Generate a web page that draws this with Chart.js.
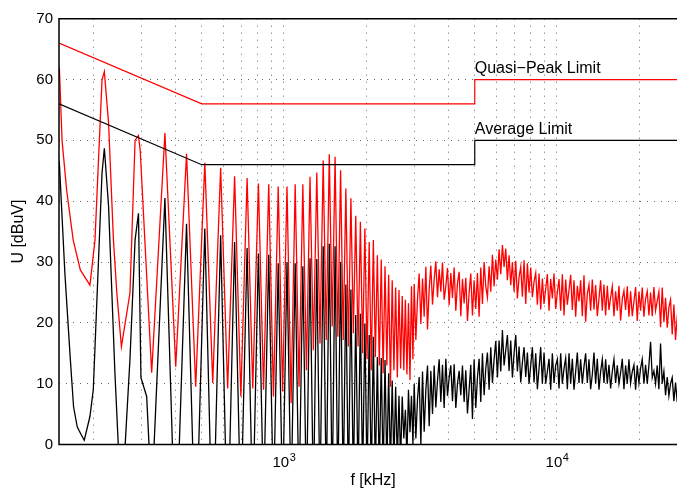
<!DOCTYPE html>
<html>
<head>
<meta charset="utf-8">
<title>Conducted emission</title>
<script src="https://cdn.jsdelivr.net/npm/chart.js@4.4.1/dist/chart.umd.min.js"></script>
<style>
  html, body { margin: 0; padding: 0; overflow: hidden; background: #fff; }
  #wrap { width: 690px; height: 488px; }
</style>
</head>
<body>
<div id="wrap"><canvas id="grafico" width="690" height="488"></canvas></div>
<script>
//DATA//

// harmonics of the switching frequency (kHz), n = 2 ... 40
const harmonicKHz = [146.6, 219.9, 293.2, 366.5, 439.8, 513.1, 586.4, 659.7, 733, 806.3,
  879.6, 952.9, 1026.2, 1099.5, 1172.8, 1246.1, 1319.4, 1392.7, 1466, 1539.3,
  1612.6, 1685.9, 1759.2, 1832.5, 1905.8, 1979.1, 2052.4, 2125.7, 2199, 2272.3,
  2345.6, 2418.9, 2492.2, 2565.5, 2638.8, 2712.1, 2785.4, 2858.7, 2932];

// quasi-peak: level on each harmonic and the minimum right after it (dBuV)
const qpPeak = [63, 61.3, 50.8, 51.2, 47.8, 46.3, 45.5, 44.1, 43.8, 42.9,
  42.8, 42.4, 42.4, 42.8, 42.8, 44.0, 44.7, 46.7, 47.7, 47.3,
  45.1, 42.1, 40.5, 37.6, 36.6, 35.5, 33.3, 33.6, 31.1, 30.4,
  29.3, 27.9, 27.0, 25.8, 25.4, 24.4, 23.8, 23.2, 26.0];
const qpDip = [28.7, 16.1, 11.8, 12.8, 9.5, 10.1, 9.2, 7.9, 9.2, 9.0,
  7.9, 8.7, 6.8, 9.5, 12.2, 15.5, 16.6, 17.2, 19.4, 17.7,
  17.2, 16.1, 18.3, 16.1, 15.0, 14.0, 12.2, 14.4, 13.0, 11.7,
  13.0, 9.5, 12.2, 11.0, 12.5, 12.2, 11.5, 10.6, 14.0];

// average detector, same layout (dips run below the axis)
const avPeak = [48, 48.7, 38.0, 40.5, 36.3, 35.5, 34.4, 33.3, 32.3, 31.4,
  31.2, 29.8, 30.0, 29.8, 29.3, 30.6, 30.5, 32.6, 33.0, 32.6,
  30.0, 26.3, 25.5, 21.3, 21.5, 19.9, 18.0, 17.7, 14.4, 14.2,
  13.9, 11.7, 10.5, 9.5, 8.0, 7.9, 5.7, 9.0, 8.0];
const avDip = [1.9, -11, -9, -18, -18, -18, -16, -12, -12, -10,
  -10, -10, -10, -10, -10, -10, -10, -9, -9, -9,
  -8, -8, -7, -7, -6, -6, -6, -5, -5, -5,
  -4, -4, -3, -3, -3, 1, -2, 2, 0];

// shape of the wide lobes at the low end [kHz, dBuV]
const qpExtra = [[150.5, 61.8], [153.9, 50.0], [160.0, 41.8], [169.1, 33.6], [194.7, 26.2],
  [203.2, 33.6], [215.6, 59.9], [227.9, 52.8], [237.4, 33.6], [244.3, 24.9],
  [272.9, 24.9], [284.9, 50.0], [297.5, 48.4]];
const avExtra = [[150.5, 46.2], [157.6, 28.2], [164.8, 14.4], [169.6, 6.2], [174.9, 2.9],
  [185.6, 0.7], [194.7, 4.6], [200.3, 9.0], [215.6, 44.6], [227.9, 39.1],
  [240.4, 11.7], [272.9, 14.0], [284.9, 33.6], [299.4, 11.0], [314.2, 7.9]];

// receiver sweep 3 MHz ... 30 MHz (log steps)
const sweepStartKHz = 3000;
const sweepStopKHz = 30000;
const qpSweep = [
  26.4, 17.2, 24.0, 28.1, 19.8, 27.3, 21.0, 29.2, 18.9, 25.5,
  29.4, 23.0, 27.1, 30.1, 24.2, 28.8, 25.1, 29.9, 23.8, 26.0,
  29.0, 22.9, 28.2, 24.1, 29.1, 22.0, 26.5, 28.4, 21.1, 27.2,
  23.2, 27.4, 20.3, 25.0, 28.1, 21.2, 27.0, 22.3, 28.2, 21.0,
  29.1, 23.1, 30.0, 26.0, 24.2, 29.3, 25.1, 31.2, 26.0, 30.4,
  27.1, 32.1, 28.0, 32.8, 29.2, 32.2, 27.0, 31.1, 26.2, 30.0,
  25.1, 30.2, 24.0, 27.5, 29.2, 24.3, 30.3, 23.1, 29.8, 25.0,
  29.1, 24.2, 26.8, 28.2, 23.0, 28.1, 22.2, 27.3, 23.1, 25.6,
  28.0, 22.0, 27.2, 24.0, 28.1, 22.3, 25.0, 27.2, 22.0, 28.0,
  21.2, 27.1, 23.0, 25.4, 27.9, 22.1, 27.0, 21.0, 26.1, 23.5,
  27.0, 21.1, 27.8, 20.2, 24.8, 26.3, 22.0, 27.1, 22.2, 26.2,
  21.1, 24.0, 27.0, 22.0, 26.3, 21.2, 26.1, 22.1, 24.2, 26.0,
  21.1, 25.2, 22.0, 26.1, 20.4, 23.9, 25.3, 22.1, 26.0, 21.0,
  25.2, 21.1, 23.5, 25.9, 20.3, 25.1, 22.0, 25.8, 21.0, 24.0,
  25.2, 21.2, 25.0, 21.1, 25.9, 22.0, 23.6, 25.1, 19.3, 25.8,
  20.1, 24.1, 19.2, 22.5, 23.8, 18.1, 23.0, 17.2, 21.0, 23.9,
  18.0, 22.1, 16.2, 23.0, 17.9];
const avSweep = [
  10.0, 1.0, 7.5, 11.1, 0.0, 12.0, 2.1, 9.0, 13.0, 3.0,
  12.1, 5.0, 13.0, 6.1, 10.5, 14.0, 7.0, 13.1, 6.0, 14.1,
  8.0, 11.0, 13.0, 7.1, 13.2, 6.0, 10.0, 12.1, 8.1, 13.0,
  7.0, 12.2, 5.1, 9.0, 13.1, 4.2, 14.0, 6.0, 11.0, 14.1,
  7.0, 15.0, 8.1, 12.5, 15.1, 9.0, 16.0, 10.1, 14.0, 17.0,
  11.0, 17.1, 12.0, 18.8, 13.0, 15.5, 18.0, 12.1, 17.1, 11.0,
  15.0, 18.0, 12.0, 16.1, 10.2, 13.5, 16.0, 11.1, 15.1, 10.0,
  13.0, 16.0, 10.2, 15.0, 9.1, 12.5, 16.0, 10.0, 15.1, 10.0,
  12.0, 14.1, 9.0, 15.0, 10.1, 13.0, 14.0, 9.2, 15.0, 10.0,
  12.5, 14.2, 9.1, 15.0, 10.0, 14.1, 9.0, 12.0, 15.1, 10.1,
  14.0, 10.0, 12.8, 15.0, 10.1, 14.0, 9.1, 11.5, 15.1, 10.0,
  14.1, 9.0, 12.0, 14.0, 10.1, 14.0, 10.0, 13.1, 9.2, 12.0,
  14.0, 10.1, 13.0, 10.0, 11.8, 14.1, 9.1, 13.0, 10.0, 14.0,
  10.1, 12.0, 13.1, 9.0, 13.0, 10.1, 12.5, 14.0, 10.0, 13.1,
  10.0, 13.0, 16.9, 11.0, 12.1, 10.0, 13.0, 9.1, 16.6, 10.0,
  12.0, 8.1, 11.1, 8.0, 10.0, 11.0, 7.1, 10.2, 7.0, 10.0,
  6.2, 10.0, 7.0, 9.1, 6.1];

// CISPR limit lines
const limitKHz = [150, 500, 5000, 5000, 30000];
const qpLimit = [66, 56, 56, 60, 60];
const avLimit = [56, 46, 46, 50, 50];

// axes
const gridKHz = [200, 300, 400, 500, 600, 700, 800, 900, 1000,
  2000, 3000, 4000, 5000, 6000, 7000, 8000, 9000, 10000, 20000, 30000];
const decadeKHz = [1000, 10000];
const decadeExp = ["3", "4"];
const FONT = '"Liberation Sans", Arial, sans-serif';


//BUILD THE TRACES//
function buildTrace(peaks, dips, extra, sweep) {
  const pts = [];
  for (let i = 0; i < harmonicKHz.length; i++) {
    const f = harmonicKHz[i];
    const next = i + 1 < harmonicKHz.length ? harmonicKHz[i + 1] : 2 * f - harmonicKHz[i - 1];
    pts.push({ x: f, y: peaks[i] });
    pts.push({ x: Math.sqrt(f * next), y: dips[i] });
  }
  extra.forEach((p) => pts.push({ x: p[0], y: p[1] }));
  pts.sort((a, b) => a.x - b.x);

  const n = sweep.length;
  for (let i = 0; i < n; i++) {
    const f = sweepStartKHz * Math.pow(sweepStopKHz / sweepStartKHz, i / (n - 1));
    pts.push({ x: f, y: sweep[i] });
  }
  return pts;
}

function limitLine(values) {
  return limitKHz.map((f, i) => ({ x: f, y: values[i] }));
}

const qpTrace = buildTrace(qpPeak, qpDip, qpExtra, qpSweep);
const avTrace = buildTrace(avPeak, avDip, avExtra, avSweep);


//FRAME, TICK LABELS AND TEXT//
const frame = {
  id: "frame",
  afterDraw(chart) {
    const { ctx, chartArea: a, scales } = chart;
    ctx.save();

    // box (right side falls outside the page)
    ctx.strokeStyle = "#000";
    ctx.lineWidth = 1.5;
    ctx.beginPath();
    ctx.moveTo(a.right, a.top);
    ctx.lineTo(a.left, a.top);
    ctx.lineTo(a.left, a.bottom);
    ctx.lineTo(a.right, a.bottom);
    ctx.lineTo(a.right, a.top);
    ctx.stroke();

    ctx.fillStyle = "#000";
    ctx.textBaseline = "alphabetic";
    ctx.textAlign = "left";

    // 10^3, 10^4
    decadeKHz.forEach((v, i) => {
      const px = scales.x.getPixelForValue(v);
      ctx.font = "15px " + FONT;
      const wBase = ctx.measureText("10").width;
      ctx.font = "11px " + FONT;
      const wExp = ctx.measureText(decadeExp[i]).width;
      const left = px - (wBase + wExp) / 2;
      ctx.font = "15px " + FONT;
      ctx.fillText("10", left, a.bottom + 22.5);
      ctx.font = "11px " + FONT;
      ctx.fillText(decadeExp[i], left + wBase + 0.5, a.bottom + 16.5);
    });

    // limit names, just above the upper step
    ctx.font = "16px " + FONT;
    const xStep = scales.x.getPixelForValue(limitKHz[3]);
    ctx.fillText("Quasi\u2212Peak Limit", xStep, scales.y.getPixelForValue(qpLimit[3]) - 6.5);
    ctx.fillText("Average Limit", xStep, scales.y.getPixelForValue(avLimit[3]) - 6.5);

    // axis titles
    ctx.textAlign = "center";
    ctx.textBaseline = "middle";
    ctx.fillText("f [kHz]", (a.left + a.right) / 2, a.bottom + 36);
    ctx.translate(19, (a.top + a.bottom) / 2);
    ctx.rotate(-Math.PI / 2);
    ctx.fillText("U [dBuV]", 0, 0);

    ctx.restore();
  }
};


//CHART//
const dotted = {
  color: "rgba(0,0,0,0.6)",
  lineWidth: 1,
  drawTicks: false
};

new Chart(document.getElementById("grafico"), {
  type: "line",
  data: {
    datasets: [
      { data: limitLine(qpLimit), borderColor: "#ff0000", borderWidth: 1.2 },
      { data: limitLine(avLimit), borderColor: "#000000", borderWidth: 1.2 },
      { data: avTrace, borderColor: "#000000", borderWidth: 1.3 },
      { data: qpTrace, borderColor: "#ff0000", borderWidth: 1.3 }
    ]
  },
  options: {
    responsive: false,
    animation: false,
    devicePixelRatio: 1,
    events: [],
    elements: {
      point: { radius: 0 },
      line: { tension: 0, fill: false }
    },
    layout: { padding: { left: 0, top: 18.7, right: 2.8, bottom: 0 } },
    plugins: {
      legend: { display: false },
      tooltip: { enabled: false }
    },
    scales: {
      x: {
        type: "logarithmic",
        min: 150,
        max: 30000,
        afterBuildTicks: (axis) => {
          axis.ticks = gridKHz.map((v) => ({ value: v }));
        },
        afterFit: (axis) => { axis.height = 43.5; },
        ticks: { display: false },
        grid: dotted,
        border: { display: false, dash: [1, 6] }
      },
      y: {
        min: 0,
        max: 70,
        afterFit: (axis) => { axis.width = 59; },
        ticks: {
          stepSize: 10,
          padding: 6,
          color: "#000",
          font: { family: FONT, size: 15 }
        },
        grid: dotted,
        border: { display: false, dash: [1, 6] }
      }
    }
  },
  plugins: [frame]
});
</script>
</body>
</html>
